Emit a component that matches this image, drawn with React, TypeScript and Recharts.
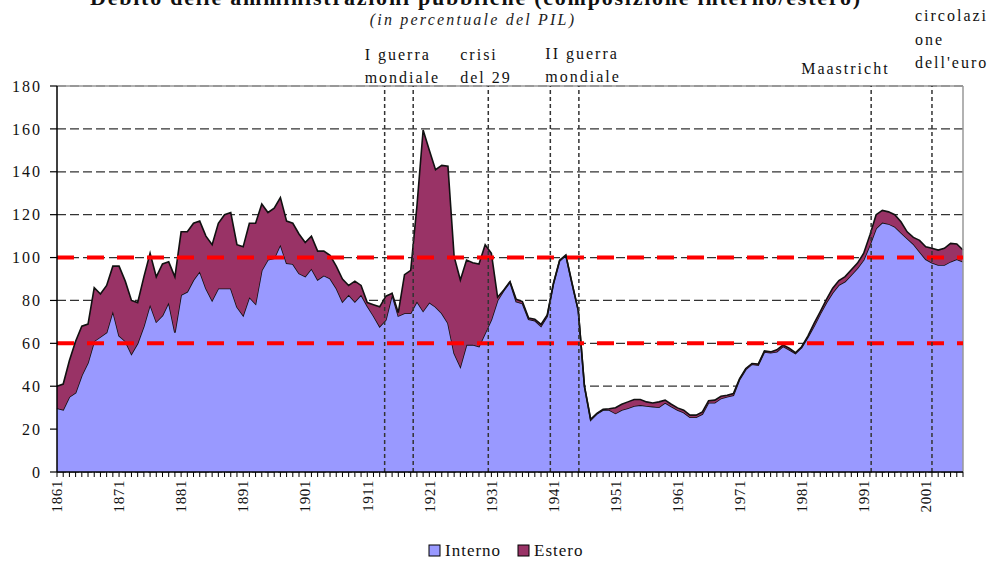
import { AreaChart, Area, XAxis, YAxis, CartesianGrid, ReferenceLine } from 'recharts'

// Debito pubblico italiano in % del PIL, 1861-2007
const START_YEAR = 1861

const interno = [
  29.7, 29, 35, 37, 45, 51, 61, 63, 65, 75,
  63.5, 61, 55, 60, 68, 78, 70, 73, 79, 65,
  82.5, 84, 89.5, 93.5, 85.6, 80, 85.6, 85.6, 85.6, 77,
  73, 81.5, 78.4, 94, 99, 99.6, 106, 97.3, 97, 92.6,
  91.2, 94.8, 89.6, 91.6, 90.2, 85.7, 79.4, 82.6, 79.4, 82.6,
  77.4, 72.8, 67.8, 70.9, 82.6, 72.8, 74, 74, 79.5, 75,
  79, 77, 74, 69.4, 55.4, 49.1, 59.3, 59.3, 58.5, 64.7,
  71, 80, 84.6, 88.5, 79.5, 78.6, 71.2, 70.6, 68, 72.7,
  87.7, 98.5, 100.9, 87.7, 75.3, 39.8, 24.2, 27.1, 28.9, 28.9,
  27.3, 28.9, 29.7, 30.8, 31.2, 30.8, 30.5, 30.2, 32.3, 30.5,
  28.9, 27.7, 25.5, 25.5, 27, 32.3, 32.3, 34.3, 35.1, 35.8,
  43.1, 47.8, 50.3, 49.8, 56, 55.6, 56.1, 58.6, 57, 55.3,
  58.1, 62.8, 68, 73.7, 79, 83.6, 87.2, 88.8, 91.9, 95,
  98.9, 105.9, 113.6, 116.3, 115.7, 114.4, 111.6, 108.9, 106.3, 102.7,
  99.2, 97.6, 96.5, 96.5, 98.1, 99.2, 98.1,
]

const estero = [
  10.3, 12, 17, 24, 23, 18, 25, 20, 22, 21,
  32.5, 28, 25, 19, 23, 24, 21, 24, 19, 26,
  29.5, 28, 26.5, 23.5, 24.4, 26, 30.4, 34.4, 35.4, 29,
  32, 34.5, 37.6, 31, 22, 23.4, 22, 19.7, 19, 18.4,
  15.8, 15.2, 13.4, 11.4, 10.8, 10.3, 10.6, 4.4, 9.6, 4.4,
  1.6, 5.2, 9.2, 11.1, 0.7, 1.5, 18, 20, 44.5, 84.5,
  71, 64, 69, 73.2, 45, 40.4, 39.5, 38.3, 38.5, 41.3,
  31, 1.5, 0.3, 0.3, 1, 0.9, 0.6, 0.6, 0.8, 0.6,
  0.3, 0.3, 0.3, 0.3, 0.2, 0.2, 0.4, 0.2, 0.3, 0.6,
  2.7, 2.7, 3, 3, 2.6, 1.9, 1.7, 2.5, 1.2, 1.1,
  1, 1.1, 1, 1, 1, 0.9, 1.2, 1, 0.7, 0.8,
  0.5, 0.5, 0.3, 0.5, 0.5, 0.4, 0.9, 0.6, 0.7, 0.3,
  0.3, 0.6, 1.3, 1.1, 1.5, 2.1, 2.1, 2.3, 2.4, 2.4,
  3.1, 4.6, 6.4, 5.7, 5.6, 5.6, 5.1, 3.1, 3.1, 5.3,
  5.8, 6.7, 7, 7.8, 8.5, 7.1, 5.4,
]

const labelYears = [1861, 1871, 1881, 1891, 1901, 1911, 1921, 1931, 1941, 1951, 1961, 1971, 1981, 1991, 2001]
const yTicks = [0, 20, 40, 60, 80, 100, 120, 140, 160, 180]
const soglie = [60, 100]

const eventYears = [1913.8, 1918.4, 1930.5, 1940.5, 1945.1, 1992.2, 2002]
const eventLabels: string[][] = [
  ['I guerra', 'mondiale'],
  [],
  ['crisi', 'del 29'],
  ['II guerra', 'mondiale'],
  [],
  ['Maastricht'],
  ['circolazi', 'one', "dell'euro"],
]

const series = [
  { key: 'interno', name: 'Interno', color: '#9999FF' },
  { key: 'estero', name: 'Estero', color: '#993366' },
]

const data = interno.map((v, i) => ({ anno: START_YEAR + i, interno: v, estero: estero[i] }))
const years = data.map((d) => d.anno)
const lastYear = years[years.length - 1]

const FONT = '"Liberation Serif", "Times New Roman", serif'

// label placement relative to each event line (dx from line, baseline of last row above plot top)
const labelOffsets = [
  { dx: -20, bottom: -3 },
  null,
  { dx: -28, bottom: -3 },
  { dx: -5, bottom: -4 },
  null,
  { dx: -70, bottom: -12 },
  { dx: -17, bottom: -18 },
]

function XTick(props: any) {
  const { x, y, payload } = props
  if (!labelYears.includes(payload.value)) return null
  return (
    <text
      x={x}
      y={y}
      transform={`rotate(-90, ${x}, ${y})`}
      textAnchor="end"
      dy="0.35em"
      fontFamily={FONT}
      fontSize={15}
      letterSpacing={0.6}
      fill="#111"
    >
      {payload.value}
    </text>
  )
}

function eventLabel(i: number) {
  const off = labelOffsets[i]
  const rows = eventLabels[i]
  if (!off || rows.length === 0) return undefined
  return (props: any) => {
    const vb = props.viewBox || {}
    const top = Math.min(vb.y, vb.y + (vb.height || 0))
    return (
      <text fontFamily={FONT} fontSize={16} letterSpacing={2} fill="#111">
        {rows.map((r, j) => (
          <tspan key={j} x={vb.x + off.dx} y={top + off.bottom - (rows.length - 1 - j) * 23.5}>
            {r}
          </tspan>
        ))}
      </text>
    )
  }
}

export default function App() {
  return (
    <div style={{ position: 'absolute', left: 0, top: 0, width: 990, height: 562, background: '#fff', overflow: 'hidden' }}>
      <svg width={990} height={562} style={{ position: 'absolute', left: 0, top: 0 }}>
        <text x={475} y={5} textAnchor="middle" fontFamily={FONT} fontSize={22} fontWeight="bold" textLength={770} fill="#111">
          Debito delle amministrazioni pubbliche (composizione interno/estero)
        </text>
        <text x={473} y={25} textAnchor="middle" fontFamily={FONT} fontSize={16} fontStyle="italic" letterSpacing={2.2} fill="#222">
          (in percentuale del PIL)
        </text>
        {series.map((s, i) => (
          <g key={s.key}>
            <rect x={429 + i * 89} y={545} width={11} height={11} fill={s.color} stroke="#000" strokeWidth={1} />
            <text x={445 + i * 89} y={556} fontFamily={FONT} fontSize={17} letterSpacing={1} fill="#111">
              {s.name}
            </text>
          </g>
        ))}
      </svg>
      <div style={{ position: 'absolute', left: 0, top: 0 }}>
        <AreaChart width={990} height={562} data={data} margin={{ top: 86, right: 27, bottom: 0, left: 0 }}>
          <CartesianGrid vertical={false} stroke="#333" strokeDasharray="9 4" strokeWidth={1.2} />
          <XAxis
            dataKey="anno"
            type="number"
            domain={[START_YEAR, lastYear]}
            ticks={years}
            interval={0}
            height={90}
            tickSize={5}
            tickMargin={3}
            tickLine={{ stroke: '#000', strokeWidth: 1 }}
            axisLine={{ stroke: '#000', strokeWidth: 1.5 }}
            tick={<XTick />}
          />
          <YAxis
            type="number"
            domain={[0, 180]}
            ticks={yTicks}
            interval={0}
            width={57}
            tickSize={7}
            tickMargin={8}
            tickLine={{ stroke: '#000', strokeWidth: 1.2 }}
            axisLine={{ stroke: '#000', strokeWidth: 1.5 }}
            tick={{ fill: '#111', fontFamily: FONT, fontSize: 16, letterSpacing: 2 }}
          />
          {series.map((s) => (
            <Area
              key={s.key}
              type="linear"
              dataKey={s.key}
              name={s.name}
              stackId="debito"
              fill={s.color}
              fillOpacity={1}
              stroke="#111"
              strokeWidth={1.6}
              dot={false}
              activeDot={false}
              isAnimationActive={false}
            />
          ))}
          <ReferenceLine y={180} stroke="#999" strokeWidth={1.5} />
          <ReferenceLine x={lastYear} stroke="#999" strokeWidth={1.5} />
          {soglie.map((v) => (
            <ReferenceLine key={v} y={v} stroke="#FF0000" strokeWidth={4} strokeDasharray="17 13" />
          ))}
          {eventYears.map((yr, i) => (
            <ReferenceLine
              key={yr}
              x={yr}
              stroke="#333"
              strokeWidth={1.5}
              strokeDasharray="4 3"
              label={eventLabel(i)}
            />
          ))}
        </AreaChart>
      </div>
    </div>
  )
}
